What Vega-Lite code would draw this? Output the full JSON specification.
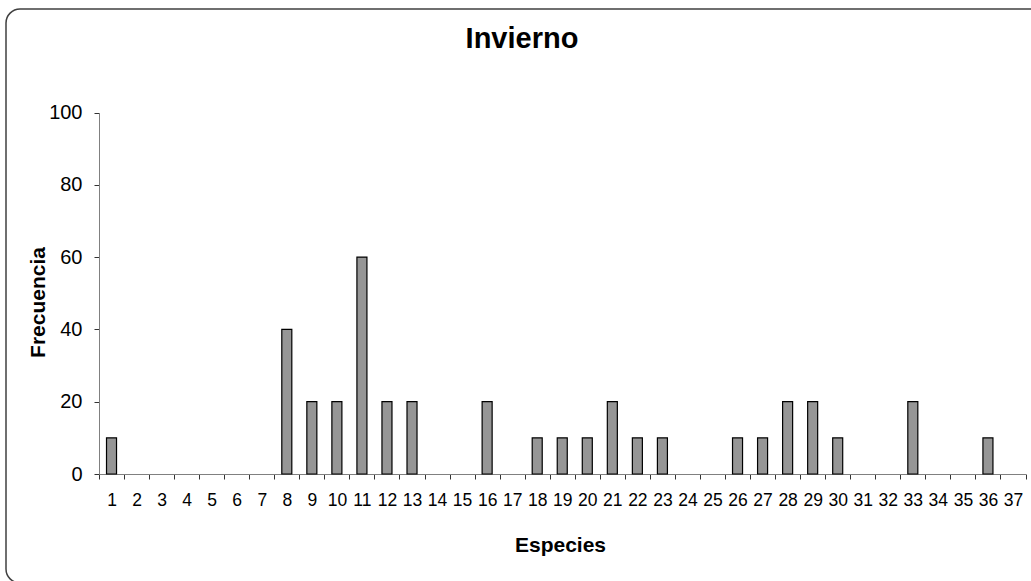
{
  "$schema": "https://vega.github.io/schema/vega-lite/v6.json",
  "autosize": {"type": "none"},
  "padding": {"left": 6, "top": 9, "right": 0, "bottom": 0},
  "width": 1040,
  "height": 574,
  "background": "white",
  "title": {
    "text": "Invierno",
    "font": "Liberation Sans",
    "fontSize": 29,
    "fontWeight": "bold",
    "color": "black",
    "anchor": "middle",
    "offset": -45,
    "dx": -4
  },
  "data": {
    "values": [
      {"Especies": 1, "Frecuencia": 10},
      {"Especies": 8, "Frecuencia": 40},
      {"Especies": 9, "Frecuencia": 20},
      {"Especies": 10, "Frecuencia": 20},
      {"Especies": 11, "Frecuencia": 60},
      {"Especies": 12, "Frecuencia": 20},
      {"Especies": 13, "Frecuencia": 20},
      {"Especies": 16, "Frecuencia": 20},
      {"Especies": 18, "Frecuencia": 10},
      {"Especies": 19, "Frecuencia": 10},
      {"Especies": 20, "Frecuencia": 10},
      {"Especies": 21, "Frecuencia": 20},
      {"Especies": 22, "Frecuencia": 10},
      {"Especies": 23, "Frecuencia": 10},
      {"Especies": 26, "Frecuencia": 10},
      {"Especies": 27, "Frecuencia": 10},
      {"Especies": 28, "Frecuencia": 20},
      {"Especies": 29, "Frecuencia": 20},
      {"Especies": 30, "Frecuencia": 10},
      {"Especies": 33, "Frecuencia": 20},
      {"Especies": 36, "Frecuencia": 10}
    ]
  },
  "mark": {"type": "bar", "fill": "#969696", "stroke": "black", "strokeWidth": 1.2, "width": {"band": 0.4}},
  "encoding": {
    "x": {
      "field": "Especies",
      "type": "ordinal",
      "scale": {
        "domain": [1,2,3,4,5,6,7,8,9,10,11,12,13,14,15,16,17,18,19,20,21,22,23,24,25,26,27,28,29,30,31,32,33,34,35,36,37],
        "range": [93, 1019.5],
        "paddingInner": 0,
        "paddingOuter": 0
      },
      "axis": {
        "offset": -109,
        "labelAngle": 0,
        "tickBand": "extent",
        "tickSize": 5,
        "tickColor": "#333333",
        "domainColor": "#808080",
        "labelFont": "Liberation Sans",
        "labelFontSize": 17.5,
        "labelColor": "black",
        "labelBaseline": "middle",
        "labelPadding": 21,
        "title": "Especies",
        "titleFont": "Liberation Sans",
        "titleFontSize": 21,
        "titleFontWeight": "bold",
        "titleColor": "black",
        "titleX": 554,
        "titleY": 71,
        "titleAlign": "center",
        "titleBaseline": "middle",
        "grid": false
      }
    },
    "y": {
      "field": "Frecuencia",
      "type": "quantitative",
      "scale": {"domain": [0, 100], "range": [465, 103.5], "nice": false},
      "axis": {
        "offset": -93,
        "values": [0, 20, 40, 60, 80, 100],
        "tickSize": 5,
        "tickColor": "#333333",
        "domainColor": "#808080",
        "labelFont": "Liberation Sans",
        "labelFontSize": 20,
        "labelColor": "black",
        "labelPadding": 12,
        "title": "Frecuencia",
        "titleFont": "Liberation Sans",
        "titleFontSize": 21,
        "titleFontWeight": "bold",
        "titleColor": "black",
        "titleX": -61,
        "titleY": 293,
        "titleAngle": 270,
        "titleAlign": "center",
        "titleBaseline": "middle",
        "grid": false
      }
    }
  },
  "config": {
    "view": {"stroke": "#404040", "strokeWidth": 1.5, "cornerRadius": 14, "fill": "white"}
  }
}
